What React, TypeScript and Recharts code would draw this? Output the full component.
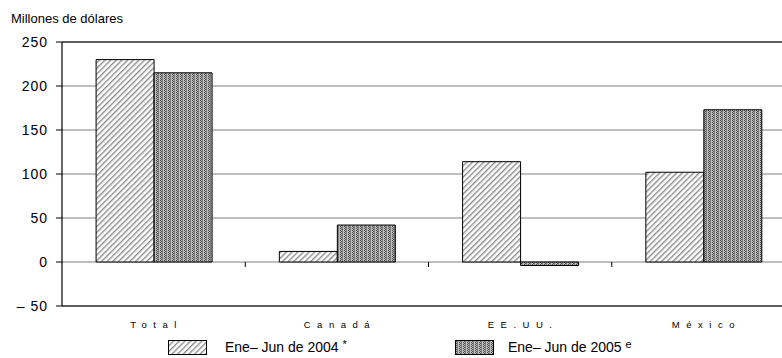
import React from "react"
import { BarChart, Bar, XAxis, YAxis, CartesianGrid, ReferenceLine } from "recharts"

const categories = ["Total", "Canadá", "EE.UU.", "México"]
const values2004 = [230, 12, 114, 102]
const values2005 = [215, 42, -4, 173]
const seriesNames = ["Ene– Jun de 2004", "Ene– Jun de 2005"]
const seriesMarks = ["*", "e"]
const yTicks = [-50, 0, 50, 100, 150, 200, 250]

const data = categories.map((name, i) => ({
  name,
  a2004: values2004[i],
  a2005: values2005[i],
}))

const FONT = "'Liberation Sans', Arial, sans-serif"
const CHART_W = 800
const CHART_H = 332
const TOP = 42
const X_AXIS_H = 26
const PLOT_H = CHART_H - TOP - X_AXIS_H
// y of the zero line inside the plot
const ZERO_Y = TOP + (PLOT_H * 250) / 300

const Patterns = ({ prefix }: { prefix: string }) => (
  <defs>
    <pattern id={prefix + "hatch"} width="4" height="4" patternUnits="userSpaceOnUse" patternTransform="rotate(45)">
      <rect width="4" height="4" fill="#fff" />
      <rect x="0" y="0" width="1.4" height="4" fill="#8c8c8c" />
    </pattern>
    <pattern id={prefix + "dots"} width="4" height="2" patternUnits="userSpaceOnUse">
      <rect width="4" height="2" fill="#bdbdbd" />
      <rect x="0" y="0" width="1" height="1" fill="#4a4a4a" />
      <rect x="1" y="1" width="1" height="1" fill="#4a4a4a" />
      <rect x="2" y="0" width="1" height="2" fill="#7c7c7c" />
    </pattern>
  </defs>
)

const fills = ["hatch", "dots"]

const XTick = (props: any) => {
  const { x, y, payload, index } = props
  return (
    <g>
      {index < categories.length - 1 && (
        <line x1={x + payload.offset} x2={x + payload.offset} y1={ZERO_Y} y2={ZERO_Y + 5} stroke="#000" />
      )}
      <text x={x + 3} y={y + 14} textAnchor="middle" fontSize={9.5} fontFamily={FONT} letterSpacing={6.5} fill="#000">
        {payload.value}
      </text>
    </g>
  )
}

const yFormat = (v: number) => (v < 0 ? "– " + Math.abs(v) : String(v))

export default function App() {
  return (
    <div style={{ position: "relative", width: 782, height: 358, overflow: "hidden", background: "#fff" }}>
      <style>{"body{margin:0;overflow:hidden}"}</style>
      <div style={{ position: "absolute", left: 11, top: 11, fontSize: 13, fontFamily: FONT, color: "#000" }}>
        Millones de dólares
      </div>
      <BarChart
        width={CHART_W}
        height={CHART_H}
        data={data}
        margin={{ top: TOP, right: 5, left: 0, bottom: 0 }}
        barCategoryGap="18.6%"
        barGap={0}
      >
        <Patterns prefix="c-" />
        <CartesianGrid vertical={false} stroke="#808080" strokeWidth={1.2} />
        <XAxis
          dataKey="name"
          height={X_AXIS_H}
          axisLine={{ stroke: "#000", strokeWidth: 1.2 }}
          tickLine={false}
          tick={<XTick />}
          interval={0}
        />
        <YAxis
          width={62}
          domain={[-50, 250]}
          ticks={yTicks}
          interval={0}
          tickFormatter={yFormat}
          axisLine={{ stroke: "#000", strokeWidth: 1.2 }}
          tickLine={{ stroke: "#000" }}
          tickSize={6}
          tickMargin={8}
          tick={{ fontSize: 14, fontFamily: FONT, fill: "#000", letterSpacing: 1 }}
        />
        <ReferenceLine y={250} stroke="#000" strokeWidth={1.2} />
        <Bar dataKey="a2004" fill="url(#c-hatch)" stroke="#000" strokeWidth={1} isAnimationActive={false} />
        <Bar dataKey="a2005" fill="url(#c-dots)" stroke="#000" strokeWidth={1} isAnimationActive={false} />
      </BarChart>
      {seriesNames.map((name, i) => (
        <div
          key={name}
          style={{
            position: "absolute",
            left: i === 0 ? 168 : 455,
            top: 338,
            height: 18,
            display: "flex",
            alignItems: "center",
            fontSize: 14,
            lineHeight: "18px",
            fontFamily: FONT,
            color: "#000",
          }}
        >
          <svg width={39} height={15} style={{ display: "block" }}>
            <Patterns prefix={"l" + i + "-"} />
            <rect x={0.5} y={0.5} width={38} height={14} fill={`url(#l${i}-${fills[i]})`} stroke="#000" />
          </svg>
          <span style={{ marginLeft: i === 0 ? 18 : 14, whiteSpace: "nowrap" }}>
            {name}{" "}
            <span style={{ fontSize: 11, verticalAlign: "top", lineHeight: "12px" }}>{seriesMarks[i]}</span>
          </span>
        </div>
      ))}
    </div>
  )
}
